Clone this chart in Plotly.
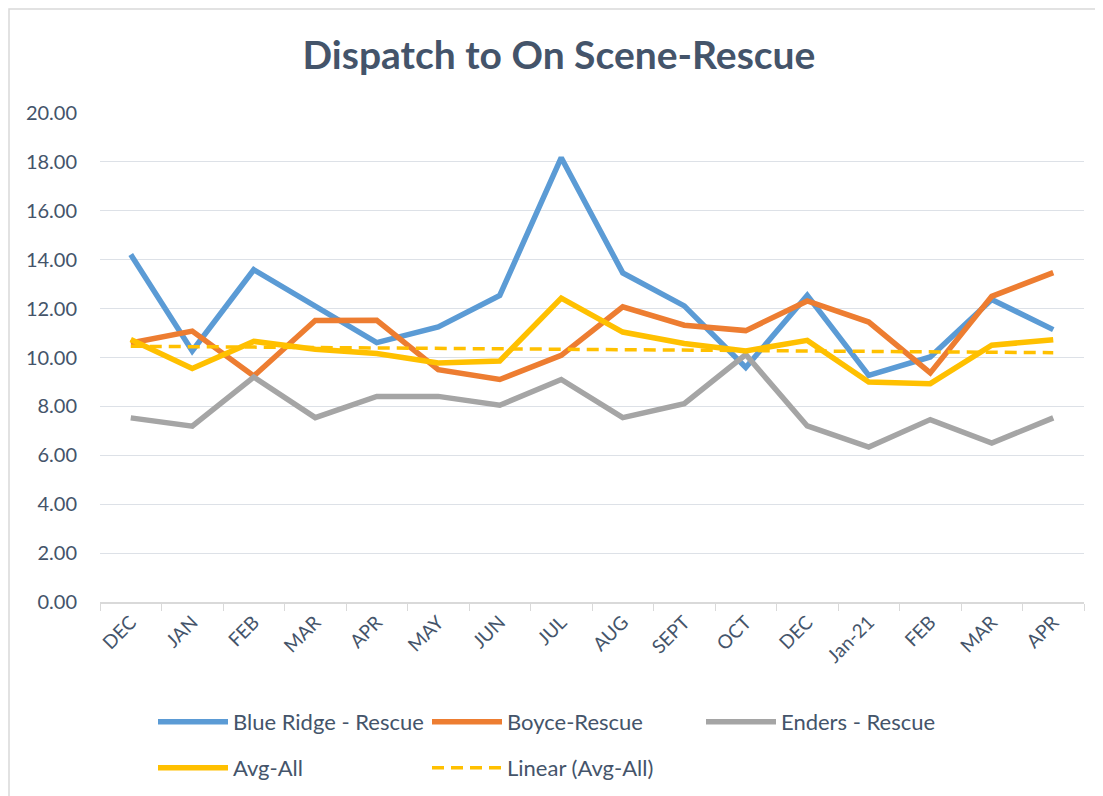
import numpy as np
import plotly.graph_objects as go

categories = ["DEC", "JAN", "FEB", "MAR", "APR", "MAY", "JUN", "JUL", "AUG",
              "SEPT", "OCT", "DEC", "Jan-21", "FEB", "MAR", "APR"]
blue_ridge = [14.21, 10.27, 13.59, 12.07, 10.61, 11.25, 12.54, 18.17, 13.46,
              12.11, 9.59, 12.54, 9.27, 10.02, 12.37, 11.14]
boyce = [10.59, 11.08, 9.24, 11.51, 11.52, 9.50, 9.10, 10.09, 12.07,
         11.32, 11.10, 12.31, 11.45, 9.37, 12.50, 13.47]
enders = [7.53, 7.19, 9.20, 7.54, 8.41, 8.41, 8.05, 9.10, 7.54,
          8.11, 10.12, 7.20, 6.34, 7.46, 6.50, 7.53]
avg_all = [10.74, 9.55, 10.66, 10.34, 10.16, 9.78, 9.86, 12.43, 11.04,
           10.57, 10.27, 10.70, 9.00, 8.93, 10.50, 10.73]
y_ticks = [0, 2, 4, 6, 8, 10, 12, 14, 16, 18, 20]

x = list(range(len(categories)))
coef = np.polyfit(x, avg_all, 1)
trend = list(np.polyval(coef, x))

FONT = "Lato"
TXT = "#44546A"
W, H = 1103, 796
L, R, T, B = 92, 27, 105, 202
PW, PH = W - L - R, H - T - B

# legend slot per trace: (legend id, left x px, row centre y px)
series = [
    ("Blue Ridge - Rescue", blue_ridge, "#5B9BD5", "solid", 5.5, "legend", 145, 714),
    ("Boyce-Rescue", boyce, "#ED7D31", "solid", 5.5, "legend2", 419, 714),
    ("Enders - Rescue", enders, "#A5A5A5", "solid", 5.5, "legend3", 693, 714),
    ("Avg-All", avg_all, "#FFC000", "solid", 5.5, "legend4", 145, 760),
    ("Linear (Avg-All)", trend, "#FFC000", "12px,7px", 3.5, "legend5", 419, 760),
]

fig = go.Figure()
legends = {}
for name, vals, col, dash, lw, lg, lx, ly in series:
    fig.add_trace(go.Scatter(x=x, y=vals, mode="lines", name=name, legend=lg,
                             line=dict(color=col, width=lw, dash=dash)))
    legends[lg] = dict(orientation="h", xref="container", yref="container",
                       x=lx / W, xanchor="left", y=1 - ly / H, yanchor="middle",
                       font=dict(size=22, color=TXT, family=FONT),
                       itemwidth=70, bgcolor="rgba(0,0,0,0)")

fig.update_layout(
    width=W, height=H,
    margin=dict(l=L, r=R, t=T, b=B, autoexpand=False),
    paper_bgcolor="white", plot_bgcolor="white",
    font=dict(family=FONT, color=TXT, size=17),
    title=dict(text="<b>Dispatch to On Scene-Rescue</b>", x=551 / W, xanchor="center",
               y=1 - 47 / H, yanchor="middle",
               font=dict(family=FONT, size=39, color=TXT)),
    xaxis=dict(range=[-0.5, len(categories) - 0.5], tickvals=x, ticktext=categories,
               tickangle=-45, showgrid=False, showline=True, linecolor="#D9D9D9",
               linewidth=1.5, ticks="", tickfont=dict(size=19, color=TXT),
               minor=dict(tickvals=[i - 0.5 for i in range(len(categories) + 1)],
                          ticks="outside", ticklen=7, tickcolor="#D9D9D9", tickwidth=1),
               zeroline=False),
    yaxis=dict(range=[0, 20], tickvals=y_ticks, tickformat=".2f",
               showgrid=True, gridcolor="#DDE1E7", gridwidth=1.3,
               zeroline=False, showline=False, ticks="", ticklabelstandoff=22,
               tickfont=dict(size=20, color=TXT)),
    showlegend=True,
    **legends,
)

# outer chart border (Excel chart area)
fig.add_shape(type="rect", xref="paper", yref="paper",
              x0=(1 - L) / PW, x1=(1130 - L) / PW,
              y0=(PH + T - 830) / PH, y1=(PH + T - 1) / PH,
              line=dict(color="#D9D9D9", width=1.5), fillcolor="rgba(0,0,0,0)",
              layer="below")

fig.write_html("out.html")
